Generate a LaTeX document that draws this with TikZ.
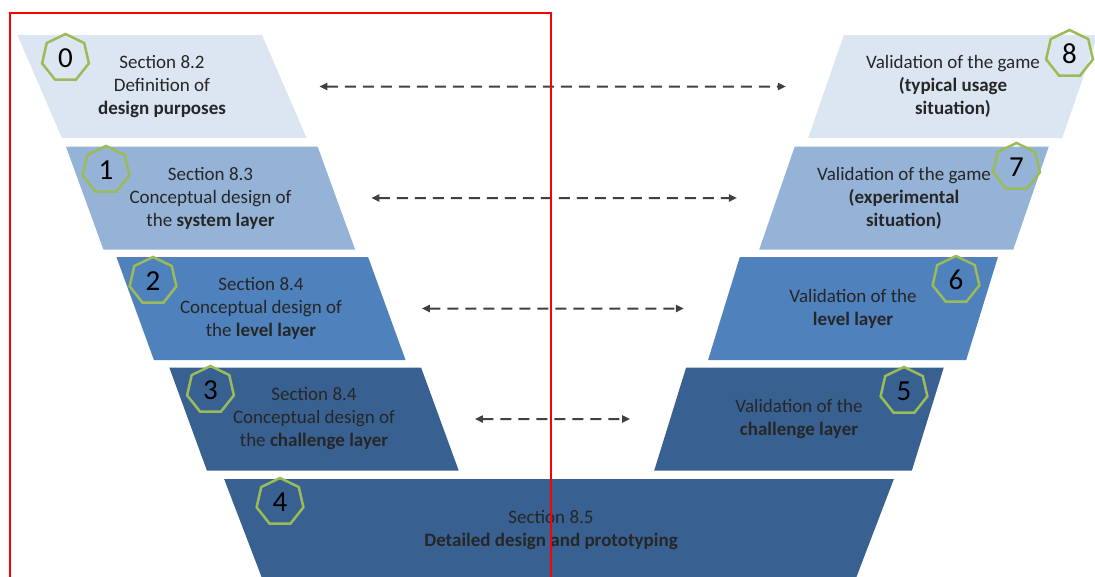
\documentclass[tikz,border=0pt]{standalone}
\usepackage{fontspec}
\setmainfont{Carlito}
\usetikzlibrary{shapes.geometric, arrows.meta}

\definecolor{paleblue}{HTML}{DCE6F2}
\definecolor{lightblue}{HTML}{95B3D7}
\definecolor{midblue}{HTML}{4F81BD}
\definecolor{deepblue}{HTML}{386192}
\definecolor{stepgreen}{HTML}{9BBB59}
\definecolor{arrowgray}{HTML}{404040}

\begin{document}
\begin{tikzpicture}[
  x=1pt, y=-1pt,
  stage/.style={trapezium, trapezium stretches=true, minimum width=290pt, minimum height=103pt, inner sep=0pt, outer sep=0pt, align=center, text=black!85, font=\fontsize{19}{23}\selectfont},
  lstage/.style={stage, trapezium left angle=114.5, trapezium right angle=65.5},
  rstage/.style={stage, trapezium left angle=65.5, trapezium right angle=114.5},
  hept/.style={regular polygon, regular polygon sides=7, minimum size=48pt, inner sep=0pt, draw=stepgreen, line width=2.5pt, font=\fontsize{29}{29}\selectfont},
  darr/.style={{Triangle[length=8pt,width=7pt]}-{Triangle[length=8pt,width=7pt]}, dash pattern=on 11pt off 7pt, line width=2pt, draw=arrowgray, shorten <=35pt, shorten >=40pt},
]
\useasboundingbox (0,0) rectangle (1095,576);

% design side
\node[lstage, fill=paleblue]  (l0) at (162,86.5)  {Section 8.2\\Definition of\\\textbf{design purposes}};
\node[lstage, fill=lightblue] (l1) at (210.5,198) {Section 8.3\\Conceptual design of\\the \textbf{system layer}};
\node[lstage, fill=midblue]   (l2) at (261,308.5) {Section 8.4\\Conceptual design of\\the \textbf{level layer}};
\node[lstage, fill=deepblue]  (l3) at (314,419)   {Section 8.4\\Conceptual design of\\the \textbf{challenge layer}};

% bottom of the V
\node[stage, fill=deepblue, shape border rotate=180, trapezium left angle=65.5, trapezium right angle=65.5, minimum width=672pt] (base) at (559,530.5) {Section 8.5\hspace*{16pt}\\\textbf{Detailed design and prototyping}\hspace*{16pt}};

% validation side
\node[rstage, fill=deepblue]  (r5) at (799,419)   {Validation of the\\\textbf{challenge layer}};
\node[rstage, fill=midblue]   (r6) at (853,308.5) {Validation of the\\\textbf{level layer}};
\node[rstage, fill=lightblue] (r7) at (904,198)   {Validation of the game\\\textbf{(experimental}\\\textbf{situation)}};
\node[rstage, fill=paleblue]  (r8) at (953,86.5)  {Validation of the game\\\textbf{(typical usage}\\\textbf{situation)}};

% step numbers
\node[hept] (h0) at (65.5,58)  {0};
\node[hept] (h1) at (106,170)  {1};
\node[hept] (h2) at (153,281)  {2};
\node[hept] (h3) at (210.5,390) {3};
\node[hept] (h4) at (280,502)  {4};
\node[hept] (h5) at (904,391)  {5};
\node[hept] (h6) at (956,280)  {6};
\node[hept] (h7) at (1016.5,167) {7};
\node[hept] (h8) at (1069.5,54)  {8};

\draw[darr] (l0) -- (r8);
\draw[darr] (l1) -- (r7);
\draw[darr] (l2) -- (r6);
\draw[darr] (l3) -- (r5);

\draw[red, line width=2pt] (10,13) rectangle (551,580);
\end{tikzpicture}
\end{document}
